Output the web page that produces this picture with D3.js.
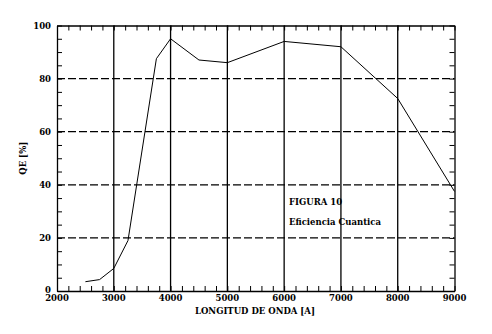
<!DOCTYPE html>
<html><head><meta charset="utf-8">
<script src="https://cdn.jsdelivr.net/npm/d3@7"></script>
<style>body{margin:0;background:#fff}svg{display:block}text{font-family:"DejaVu Serif","Liberation Serif",serif;font-weight:bold;font-size:8.5px;fill:#000}</style>
</head><body><svg id="c" width="492" height="334"></svg>
<script>
const wavelengths = [2500, 2750, 3000, 3250, 3750, 4000, 4500, 5000, 6000, 7000, 8000, 9000];
const qeValues    = [3.5, 4.3, 8.5, 19, 87.5, 95, 87, 86, 94, 92, 72.5, 37.5];
const xTicks = [2000, 3000, 4000, 5000, 6000, 7000, 8000, 9000];
const yTicks = [0, 20, 40, 60, 80, 100];
const xGrid = [3000, 4000, 5000, 6000, 7000, 8000];
const yGrid = [20, 40, 60, 80];
const annotations = ["FIGURA 10", "Eficiencia Cuantica"];

const svg = d3.select("#c");
const L = 57, R = 454.5, T = 25.5, B = 291;
const x = d3.scaleLinear().domain([2000, 9000]).range([L, R]);
const y = d3.scaleLinear().domain([0, 100]).range([B, T]);

const minorX = d3.range(2000, 9001, 200);
const minorY = d3.range(0, 101, 5);

// grid
svg.append("g").selectAll("line").data(xGrid).join("line")
  .attr("x1", d => x(d)).attr("x2", d => x(d)).attr("y1", T).attr("y2", B)
  .attr("stroke", "#000").attr("stroke-width", 1.3);
svg.append("g").selectAll("line").data(yGrid).join("line")
  .attr("x1", L).attr("x2", R).attr("y1", d => y(d)).attr("y2", d => y(d))
  .attr("stroke", "#000").attr("stroke-width", 1.2).attr("stroke-dasharray", "8,3");

// axes with inward ticks
const gx = svg.append("g").attr("transform", `translate(0,${B})`)
  .call(d3.axisBottom(x).tickValues(minorX).tickSizeInner(-5).tickSizeOuter(0).tickFormat(""));
const gxt = svg.append("g").attr("transform", `translate(0,${T})`)
  .call(d3.axisTop(x).tickValues(minorX).tickSizeInner(-5).tickSizeOuter(0).tickFormat(""));
const gy = svg.append("g").attr("transform", `translate(${L},0)`)
  .call(d3.axisLeft(y).tickValues(minorY).tickSizeInner(-5).tickSizeOuter(0).tickFormat(""));
const gyr = svg.append("g").attr("transform", `translate(${R},0)`)
  .call(d3.axisRight(y).tickValues(minorY).tickSizeInner(-5).tickSizeOuter(0).tickFormat(""));
[gx, gxt, gy, gyr].forEach(g => {
  g.selectAll("path").attr("stroke", "#000").attr("stroke-width", 1.3);
  g.selectAll("line").attr("stroke", "#000").attr("stroke-width", 1);
});

// tick labels
svg.append("g").selectAll("text").data(xTicks).join("text")
  .attr("x", d => x(d)).attr("y", 301).attr("text-anchor", "middle").text(d => d);
svg.append("g").selectAll("text").data(yTicks).join("text")
  .attr("x", 51).attr("y", d => d === 0 ? y(d) + 1.5 : y(d) + 3).attr("text-anchor", "end").text(d => d);

// axis titles
svg.append("text").attr("x", 255).attr("y", 314).attr("text-anchor", "middle").text("LONGITUD DE ONDA [A]");
svg.append("text").attr("transform", `translate(26,${(T + B) / 2}) rotate(-90)`)
  .attr("text-anchor", "middle").text("QE [%]");

// data line
const pts = wavelengths.map((w, i) => [w, qeValues[i]]);
svg.append("path").datum(pts)
  .attr("d", d3.line().x(d => x(d[0])).y(d => y(d[1])))
  .attr("fill", "none").attr("stroke", "#000").attr("stroke-width", 1);

// annotations
svg.append("text").attr("x", 289).attr("y", 205).text(annotations[0]);
svg.append("text").attr("x", 289).attr("y", 225).text(annotations[1]);
</script></body></html>
